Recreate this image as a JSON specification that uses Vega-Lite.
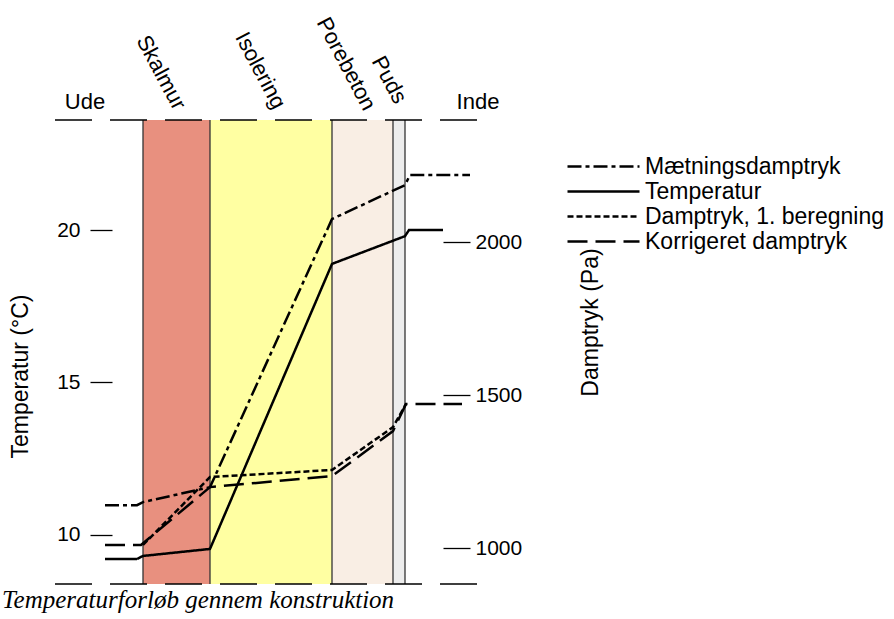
{
  "$schema": "https://vega.github.io/schema/vega-lite/v6.json",
  "width": 424,
  "height": 464,
  "autosize": {"type": "none"},
  "padding": {"left": 53, "top": 120, "right": 417, "bottom": 35},
  "background": "white",
  "config": {
    "view": {"stroke": null},
    "font": "Liberation Sans",
    "axis": {
      "labelFont": "Liberation Sans",
      "labelFontSize": 21,
      "labelColor": "black",
      "titleFont": "Liberation Sans",
      "titleFontSize": 23,
      "titleFontWeight": "normal",
      "titleColor": "black",
      "grid": false,
      "domain": false,
      "tickColor": "black",
      "tickWidth": 1.3
    }
  },
  "title": {
    "text": "Temperaturforløb gennem konstruktion",
    "orient": "bottom",
    "anchor": "start",
    "frame": "group",
    "font": "Liberation Serif",
    "fontStyle": "italic",
    "fontWeight": "normal",
    "fontSize": 25,
    "color": "black",
    "offset": 3,
    "dx": -51
  },
  "datasets": {
    "layers": [
      {"layer": "Skalmur", "x0": 90, "x1": 157},
      {"layer": "Isolering", "x0": 157, "x1": 279},
      {"layer": "Porebeton", "x0": 279, "x1": 340},
      {"layer": "Puds", "x0": 340, "x1": 352}
    ],
    "bounds": [{"x": 90}, {"x": 157}, {"x": 279}, {"x": 340}, {"x": 352}],
    "edges": [{"T": 23.61}, {"T": 8.39}],
    "sides": [
      {"name": "Ude", "x": 32, "T": 24.2},
      {"name": "Inde", "x": 425, "T": 24.2}
    ],
    "layerLabels": [
      {"name": "Skalmur", "x": 127, "T": 24.0},
      {"name": "Isolering", "x": 227, "T": 24.03},
      {"name": "Porebeton", "x": 317, "T": 23.98},
      {"name": "Puds", "x": 348, "T": 24.2}
    ],
    "temp": [
      {"series": "Temperatur", "x": 52, "T": 9.21},
      {"series": "Temperatur", "x": 84, "T": 9.21},
      {"series": "Temperatur", "x": 90, "T": 9.31},
      {"series": "Temperatur", "x": 157, "T": 9.54},
      {"series": "Temperatur", "x": 279, "T": 18.89},
      {"series": "Temperatur", "x": 352, "T": 19.8},
      {"series": "Temperatur", "x": 356, "T": 20.0},
      {"series": "Temperatur", "x": 390, "T": 20.0}
    ],
    "pressure": [
      {"series": "Mætningsdamptryk", "x": 52, "P": 1140},
      {"series": "Mætningsdamptryk", "x": 84, "P": 1140},
      {"series": "Mætningsdamptryk", "x": 90, "P": 1150},
      {"series": "Mætningsdamptryk", "x": 157, "P": 1199},
      {"series": "Mætningsdamptryk", "x": 279, "P": 2075},
      {"series": "Mætningsdamptryk", "x": 352, "P": 2186},
      {"series": "Mætningsdamptryk", "x": 357, "P": 2219},
      {"series": "Mætningsdamptryk", "x": 417, "P": 2219},
      {"series": "Damptryk, 1. beregning", "x": 90, "P": 1010},
      {"series": "Damptryk, 1. beregning", "x": 157, "P": 1232},
      {"series": "Damptryk, 1. beregning", "x": 279, "P": 1255},
      {"series": "Damptryk, 1. beregning", "x": 340, "P": 1395},
      {"series": "Damptryk, 1. beregning", "x": 353, "P": 1471},
      {"series": "Korrigeret damptryk", "x": 52, "P": 1010},
      {"series": "Korrigeret damptryk", "x": 88, "P": 1010},
      {"series": "Korrigeret damptryk", "x": 157, "P": 1199},
      {"series": "Korrigeret damptryk", "x": 279, "P": 1235},
      {"series": "Korrigeret damptryk", "x": 340, "P": 1382},
      {"series": "Korrigeret damptryk", "x": 353, "P": 1471},
      {"series": "Korrigeret damptryk", "x": 409, "P": 1471}
    ]
  },
  "layer": [
    {
      "layer": [
        {
          "data": {"name": "layers"},
          "mark": {"type": "rect"},
          "encoding": {
            "x": {"field": "x0", "type": "quantitative", "scale": {"domain": [0, 424], "nice": false, "zero": false}, "axis": null},
            "x2": {"field": "x1"},
            "color": {
              "field": "layer",
              "type": "nominal",
              "scale": {"domain": ["Skalmur", "Isolering", "Porebeton", "Puds"], "range": ["#E8907F", "#FFFFA2", "#F9EEE4", "#EDEDED"]},
              "legend": null
            }
          }
        },
        {
          "data": {"name": "bounds"},
          "mark": {"type": "rule", "color": "#333333", "strokeWidth": 1.3},
          "encoding": {
            "x": {"field": "x", "type": "quantitative", "axis": null}
          }
        },
        {
          "data": {"name": "temp"},
          "mark": {"type": "line", "color": "black", "strokeWidth": 2.5},
          "encoding": {
            "x": {"field": "x", "type": "quantitative", "axis": null},
            "y": {
              "field": "T",
              "type": "quantitative",
              "title": "Temperatur (°C)",
              "scale": {"domain": [8.39, 23.61], "nice": false, "zero": false},
              "axis": {
                "orient": "left",
                "offset": -59,
                "tickSize": 22,
                "labelPadding": 10,
                "values": [10, 15, 20],
                "titleAngle": -90,
                "titleX": -92,
                "titleY": 256,
                "titleBaseline": "middle",
                "titleAlign": "center"
              }
            },
            "strokeDash": {
              "field": "series",
              "type": "nominal",
              "scale": {
                "domain": ["Mætningsdamptryk", "Temperatur", "Damptryk, 1. beregning", "Korrigeret damptryk"],
                "range": [[14, 4, 4, 4], [1, 0], [6, 3], [20, 8]]
              },
              "legend": {
                "orient": "none",
                "legendX": 539,
                "legendY": 35,
                "title": null,
                "symbolType": "M-4,0H4",
                "symbolSize": 324,
                "symbolStrokeWidth": 2.5,
                "symbolStrokeColor": "black",
                "labelFont": "Liberation Sans",
                "labelFontSize": 23,
                "labelColor": "black",
                "labelLimit": 400,
                "labelOffset": 30,
                "rowPadding": 1
              }
            }
          }
        },
        {
          "data": {"name": "edges"},
          "mark": {"type": "rule", "color": "black", "strokeWidth": 1.5, "strokeDash": [37, 18]},
          "encoding": {
            "y": {"field": "T", "type": "quantitative", "title": "Temperatur (°C)"}
          }
        },
        {
          "data": {"name": "sides"},
          "mark": {"type": "text", "font": "Liberation Sans", "fontSize": 22, "color": "black", "baseline": "middle", "align": "center"},
          "encoding": {
            "x": {"field": "x", "type": "quantitative", "axis": null},
            "y": {"field": "T", "type": "quantitative", "title": "Temperatur (°C)"},
            "text": {"field": "name"}
          }
        },
        {
          "data": {"name": "layerLabels"},
          "mark": {"type": "text", "font": "Liberation Sans", "fontSize": 22, "color": "black", "baseline": "middle", "align": "right", "angle": 62},
          "encoding": {
            "x": {"field": "x", "type": "quantitative", "axis": null},
            "y": {"field": "T", "type": "quantitative", "title": "Temperatur (°C)"},
            "text": {"field": "name"}
          }
        }
      ]
    },
    {
      "data": {"name": "pressure"},
      "mark": {"type": "line", "color": "black", "strokeWidth": 2.5},
      "encoding": {
        "x": {"field": "x", "type": "quantitative", "axis": null},
        "y": {
          "field": "P",
          "type": "quantitative",
          "scale": {"domain": [882.4, 2398.7], "nice": false, "zero": false},
          "axis": {
            "orient": "right",
            "offset": -34,
            "tickSize": 27,
            "labelPadding": 5,
            "format": "d",
            "values": [1000, 1500, 2000],
            "title": "Damptryk (Pa)",
            "titleAngle": -90,
            "titleX": 147,
            "titleY": 202,
            "titleBaseline": "middle",
            "titleAlign": "center"
          }
        },
        "strokeDash": {"field": "series", "type": "nominal"},
        "order": {"field": "x", "type": "quantitative"}
      }
    }
  ],
  "resolve": {"scale": {"y": "independent"}}
}
